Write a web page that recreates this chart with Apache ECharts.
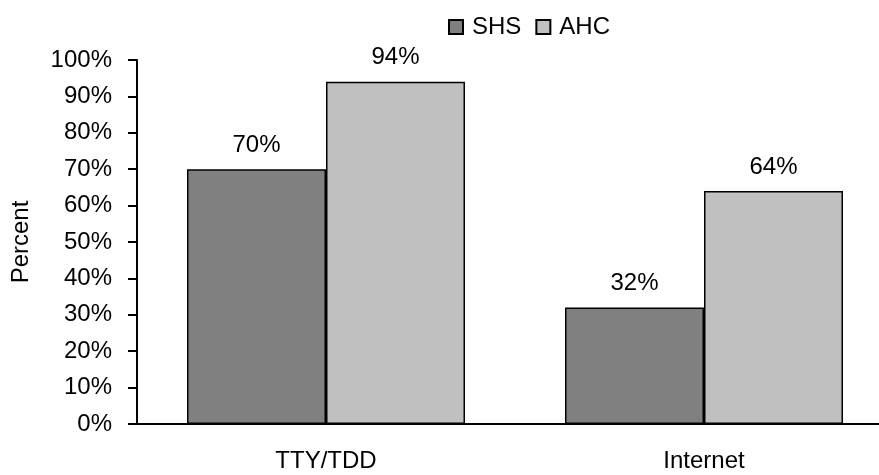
<!DOCTYPE html>
<html>
<head>
<meta charset="utf-8">
<script src="https://cdn.jsdelivr.net/npm/echarts@6/dist/echarts.min.js"></script>
<style>html,body{margin:0;padding:0;background:#fff;overflow:hidden}#c{width:893px;height:475px}</style>
</head>
<body>
<div id="c"></div>
<script>
var categories = ['TTY/TDD', 'Internet'];
var shsValues = [70, 32];
var ahcValues = [94, 64];
var yTicks = [0, 10, 20, 30, 40, 50, 60, 70, 80, 90, 100];

var font = 'Liberation Sans, Arial, sans-serif';
var chart = echarts.init(document.getElementById('c'));
chart.setOption({
  animation: false,
  textStyle: {fontFamily: font},
  legend: {
    left: 443, top: 10,
    itemWidth: 14, itemHeight: 14, itemGap: 14,
    icon: 'rect',
    textStyle: {fontSize: 24, color: '#000', fontFamily: font, padding: [0,0,0,4]},
    data: ['SHS', 'AHC']
  },
  grid: {left: 137, top: 60, right: 0, height: 364, containLabel: false},
  xAxis: {
    type: 'category', data: categories,
    axisLine: {lineStyle: {color: '#000', width: 2}},
    axisTick: {show: false},
    axisLabel: {fontSize: 24, color: '#000', margin: 25, fontFamily: font}
  },
  yAxis: {
    type: 'value', min: 0, max: yTicks[yTicks.length-1], interval: 10,
    name: 'Percent', nameLocation: 'middle', nameGap: 104,
    nameTextStyle: {fontSize: 24, color: '#000', fontFamily: font},
    axisLine: {show: true, lineStyle: {color: '#000', width: 2}},
    axisTick: {show: true, length: 9, lineStyle: {color: '#000', width: 2}},
    splitLine: {show: false},
    axisLabel: {fontSize: 24, color: '#000', margin: 25, fontFamily: font, formatter: '{value}%'}
  },
  series: [
    {name: 'SHS', type: 'bar', data: shsValues, barWidth: 139, barGap: '0%',
     itemStyle: {color: '#808080', borderColor: '#000', borderWidth: 1.5},
     label: {show: true, position: 'top', distance: 12, formatter: '{c}%', fontSize: 24, color: '#000', fontFamily: font}},
    {name: 'AHC', type: 'bar', data: ahcValues, barWidth: 139, barGap: '0%',
     itemStyle: {color: '#C0C0C0', borderColor: '#000', borderWidth: 1.5},
     label: {show: true, position: 'top', distance: 12, formatter: '{c}%', fontSize: 24, color: '#000', fontFamily: font}}
  ]
});
</script>
</body>
</html>
